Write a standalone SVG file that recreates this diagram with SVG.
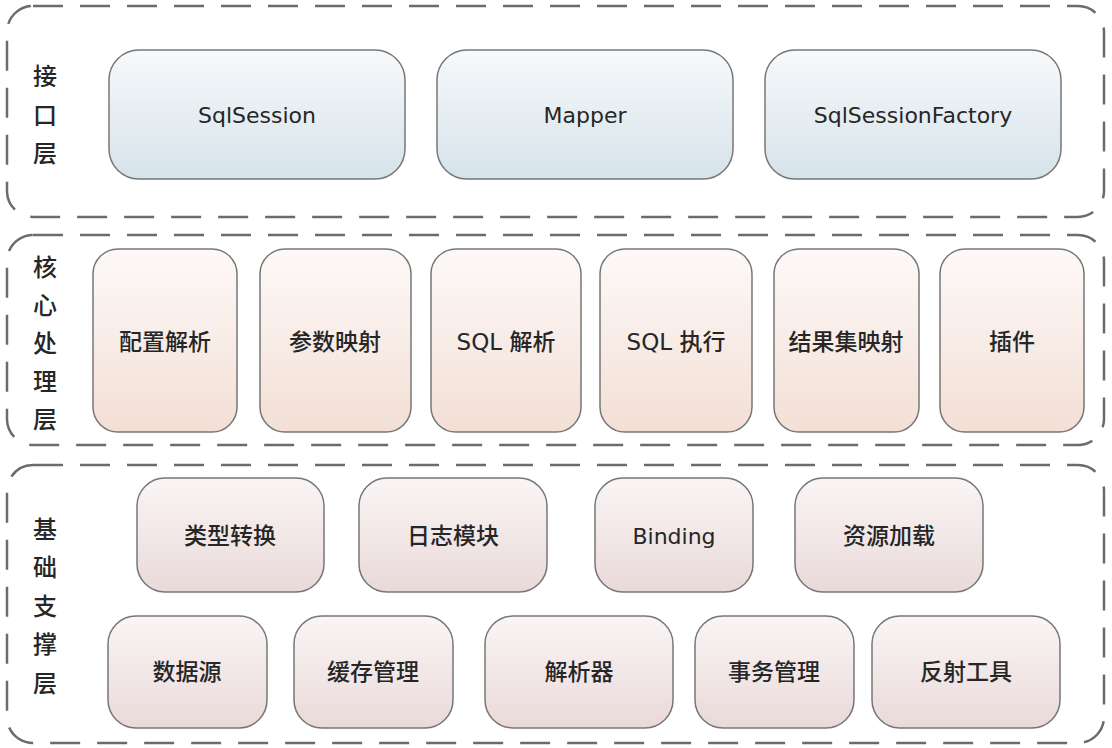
<svg xmlns="http://www.w3.org/2000/svg" width="1112" height="748" viewBox="0 0 1112 748">
<defs>
<linearGradient id="gBlue" x1="0" y1="0" x2="0" y2="1"><stop offset="0" stop-color="#f7f9fb"/><stop offset="1" stop-color="#d6e3ea"/></linearGradient>
<linearGradient id="gPeach" x1="0" y1="0" x2="0" y2="1"><stop offset="0" stop-color="#fdf9f8"/><stop offset="1" stop-color="#f3dfd5"/></linearGradient>
<linearGradient id="gPink" x1="0" y1="0" x2="0" y2="1"><stop offset="0" stop-color="#faf5f5"/><stop offset="1" stop-color="#ead9d9"/></linearGradient>
</defs>
<style>
.layer{fill:#ffffff;stroke:#6b6b6b;stroke-width:2.5;stroke-dasharray:30 17}
.box{stroke:#777777;stroke-width:1.5}
.blue{fill:url(#gBlue)}
.peach{fill:url(#gPeach)}
.pink{fill:url(#gPink)}
text{font-family:"DejaVu Sans","Noto Sans CJK SC",sans-serif;fill:#262626;text-anchor:middle;dominant-baseline:central}
.t{font-size:22px}
.c{font-size:23px;font-weight:500;font-family:"DejaVu Sans","Noto Sans CJK SC",sans-serif}
.lbl{font-size:24px;font-weight:500;font-family:"Noto Sans CJK SC",sans-serif}
</style>
<rect width="1112" height="748" fill="#ffffff"/>
<g id="layer-interface">
<rect class="layer" x="7" y="6" width="1097" height="211" rx="26"/>
<text class="lbl" x="45" y="74">接</text>
<text class="lbl" x="45" y="113">口</text>
<text class="lbl" x="45" y="151">层</text>
</g>
<g id="layer-core">
<rect class="layer" x="7" y="235" width="1097" height="210" rx="26"/>
<text class="lbl" x="45" y="265">核</text>
<text class="lbl" x="45" y="303">心</text>
<text class="lbl" x="45" y="341">处</text>
<text class="lbl" x="45" y="379">理</text>
<text class="lbl" x="45" y="417">层</text>
</g>
<g id="layer-base">
<rect class="layer" x="7" y="465" width="1097" height="278" rx="26"/>
<text class="lbl" x="45" y="527">基</text>
<text class="lbl" x="45" y="565">础</text>
<text class="lbl" x="45" y="604">支</text>
<text class="lbl" x="45" y="642">撑</text>
<text class="lbl" x="45" y="681">层</text>
</g>
<g id="n-sqlsession"><rect class="box blue" x="109" y="50" width="296" height="129" rx="30"/><text class="t" x="257" y="115">SqlSession</text></g>
<g id="n-mapper"><rect class="box blue" x="437" y="50" width="296" height="129" rx="30"/><text class="t" x="585" y="115">Mapper</text></g>
<g id="n-sqlsessionfactory"><rect class="box blue" x="765" y="50" width="296" height="129" rx="30"/><text class="t" x="913" y="115">SqlSessionFactory</text></g>
<g id="n-config"><rect class="box peach" x="93" y="249" width="144" height="183" rx="25"/><text class="c" x="165" y="342">配置解析</text></g>
<g id="n-param"><rect class="box peach" x="260" y="249" width="151" height="183" rx="25"/><text class="c" x="335" y="342">参数映射</text></g>
<g id="n-sqlparse"><rect class="box peach" x="431" y="249" width="150" height="183" rx="25"/><text class="c" x="506" y="342">SQL 解析</text></g>
<g id="n-sqlexec"><rect class="box peach" x="600" y="249" width="152" height="183" rx="25"/><text class="c" x="676" y="342">SQL 执行</text></g>
<g id="n-result"><rect class="box peach" x="774" y="249" width="145" height="183" rx="25"/><text class="c" x="846" y="342">结果集映射</text></g>
<g id="n-plugin"><rect class="box peach" x="940" y="249" width="144" height="183" rx="25"/><text class="c" x="1012" y="342">插件</text></g>
<g id="n-type"><rect class="box pink" x="137" y="478" width="187" height="114" rx="28"/><text class="c" x="230" y="536">类型转换</text></g>
<g id="n-log"><rect class="box pink" x="359" y="478" width="188" height="114" rx="28"/><text class="c" x="453" y="536">日志模块</text></g>
<g id="n-binding"><rect class="box pink" x="595" y="478" width="158" height="114" rx="28"/><text class="t" x="674" y="536">Binding</text></g>
<g id="n-resource"><rect class="box pink" x="795" y="478" width="188" height="114" rx="28"/><text class="c" x="889" y="536">资源加载</text></g>
<g id="n-datasource"><rect class="box pink" x="108" y="616" width="159" height="112" rx="28"/><text class="c" x="187" y="672">数据源</text></g>
<g id="n-cache"><rect class="box pink" x="294" y="616" width="159" height="112" rx="28"/><text class="c" x="373" y="672">缓存管理</text></g>
<g id="n-parser"><rect class="box pink" x="485" y="616" width="188" height="112" rx="28"/><text class="c" x="579" y="672">解析器</text></g>
<g id="n-tx"><rect class="box pink" x="695" y="616" width="159" height="112" rx="28"/><text class="c" x="774" y="672">事务管理</text></g>
<g id="n-reflect"><rect class="box pink" x="872" y="616" width="188" height="112" rx="28"/><text class="c" x="966" y="672">反射工具</text></g>
<g id="connectors"/>
</svg>
